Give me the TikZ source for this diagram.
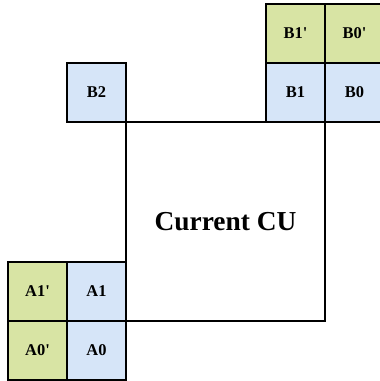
\documentclass[tikz,border=0pt]{standalone}
\usepackage{fontspec}
\setmainfont{Liberation Serif}
\definecolor{cellgreen}{RGB}{216,228,164}
\definecolor{cellblue}{RGB}{214,229,248}
\tikzset{
  cell/.style={draw=black, line width=1.4bp, minimum width=59bp, minimum height=59bp,
    inner sep=0pt, outer sep=0pt, font=\fontsize{16.5}{16.5}\selectfont\bfseries},
  gcell/.style={cell, fill=cellgreen},
  bcell/.style={cell, fill=cellblue},
  cu/.style={draw=black, line width=1.4bp, minimum width=199bp, minimum height=199bp,
    inner sep=0pt, outer sep=0pt, font=\fontsize{27.5}{27.5}\selectfont\bfseries}
}
\begin{document}
\begin{tikzpicture}[x=1bp,y=-1bp]
\useasboundingbox (0,0) rectangle (380,381);
\clip (0,0) rectangle (380,381);
\node[cu] (cur) at (225.5,221.5) {Current CU};
\node[bcell] (b2) at (96.5,92.5) {B2};
\node[bcell] (b1) at (295.5,92.5) {B1};
\node[bcell] (b0) at (354.5,92.5) {B0};
\node[gcell] (b1p) at (295.5,33.5) {B1\textquotesingle};
\node[gcell] (b0p) at (354.5,33.5) {B0\textquotesingle};
\node[gcell] (a1p) at (37.5,291.5) {A1\textquotesingle};
\node[bcell] (a1) at (96.5,291.5) {A1};
\node[gcell] (a0p) at (37.5,350.5) {A0\textquotesingle};
\node[bcell] (a0) at (96.5,350.5) {A0};
\end{tikzpicture}
\end{document}
